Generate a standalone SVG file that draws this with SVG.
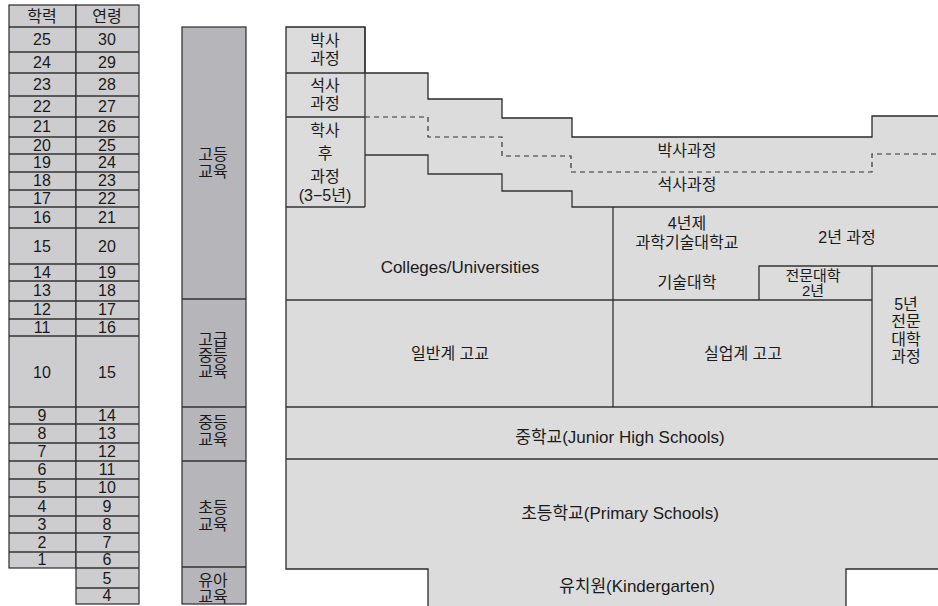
<svg xmlns="http://www.w3.org/2000/svg" width="938" height="606" viewBox="0 0 938 606">
<style>
text{font-family:"Liberation Sans","Noto Sans CJK KR",sans-serif;font-size:16px;fill:#1a1a1a;text-anchor:middle}
.num{font-size:16px}
.lat{font-size:17px}
.sm{font-size:15px}
.tbl{fill:#cdcdd0;stroke:#2a2a2a;stroke-width:1.2}
.bar{fill:#b6b6ba;stroke:#2a2a2a;stroke-width:1.2}
.main{fill:#dcdcdc;stroke:#2a2a2a;stroke-width:1.3}
.ln{fill:none;stroke:#333;stroke-width:1.3}
.dash{fill:none;stroke:#333;stroke-width:1.2;stroke-dasharray:5 4}
</style>
<rect width="938" height="606" fill="#fff"/>
<g id="age-table">
<rect class="tbl" x="9" y="5" width="67" height="563"/>
<rect class="tbl" x="76" y="5" width="63" height="599"/>
<path class="ln" d="M9 27H139M9 52H139M9 73H139M9 96H139M9 117H139M9 137H139M9 154H139M9 172H139M9 190H139M9 207H139M9 228H139M9 264H139M9 281H139M9 301H139M9 319H139M9 336H139M9 407H139M9 424H139M9 443H139M9 461H139M9 479H139M9 497H139M9 516H139M9 533H139M9 552H139M76 568H139M76 588H139"/>
<g class="num">
<text x="42" y="22">학력</text><text x="107" y="22">연령</text>
<text x="42" y="45">25</text><text x="107" y="45">30</text>
<text x="42" y="68">24</text><text x="107" y="68">29</text>
<text x="42" y="90">23</text><text x="107" y="90">28</text>
<text x="42" y="112">22</text><text x="107" y="112">27</text>
<text x="42" y="132">21</text><text x="107" y="132">26</text>
<text x="42" y="151">20</text><text x="107" y="151">25</text>
<text x="42" y="168">19</text><text x="107" y="168">24</text>
<text x="42" y="186">18</text><text x="107" y="186">23</text>
<text x="42" y="204">17</text><text x="107" y="204">22</text>
<text x="42" y="223">16</text><text x="107" y="223">21</text>
<text x="42" y="252">15</text><text x="107" y="252">20</text>
<text x="42" y="278">14</text><text x="107" y="278">19</text>
<text x="42" y="296">13</text><text x="107" y="296">18</text>
<text x="42" y="315">12</text><text x="107" y="315">17</text>
<text x="42" y="333">11</text><text x="107" y="333">16</text>
<text x="42" y="378">10</text><text x="107" y="378">15</text>
<text x="42" y="421">9</text><text x="107" y="421">14</text>
<text x="42" y="439">8</text><text x="107" y="439">13</text>
<text x="42" y="457">7</text><text x="107" y="457">12</text>
<text x="42" y="475">6</text><text x="107" y="475">11</text>
<text x="42" y="493">5</text><text x="107" y="493">10</text>
<text x="42" y="512">4</text><text x="107" y="512">9</text>
<text x="42" y="530">3</text><text x="107" y="530">8</text>
<text x="42" y="548">2</text><text x="107" y="548">7</text>
<text x="42" y="565">1</text><text x="107" y="565">6</text>
<text x="107" y="584">5</text>
<text x="107" y="601">4</text>
</g>
</g>
<g id="level-bar">
<rect class="bar" x="182" y="27" width="64" height="577"/>
<path class="ln" d="M182 299H246M182 407H246M182 461H246M182 567H246"/>
<text x="213" y="160">고등</text><text x="213" y="177">교육</text>
<text x="213" y="345">고급</text><text x="213" y="361">중등</text><text x="213" y="377">교육</text>
<text x="213" y="428">중등</text><text x="213" y="445">교육</text>
<text x="213" y="513">초등</text><text x="213" y="530">교육</text>
<text x="213" y="586">유아</text><text x="213" y="602">교육</text>
</g>
<g id="main-area">
<path class="main" d="M286 27H365V73H428V99H502V118H572V137H872V116H942V569H846V610H428V569H286Z"/>
</g>
<g id="connectors">
<path class="ln" d="M286 73H365M286 117H365M286 207H365M365 27V207"/>
<path class="dash" d="M365 117H428V137H502V156H571V172H872V154H940"/>
<path class="ln" d="M365 155H428V174H502V191H572V207H940"/>
<path class="ln" d="M613 207V407M286 300H872M759 300V266H940M872 266V407M286 407H940M286 459H940"/>
</g>
<g id="phd-box"><text x="325" y="46">박사</text><text x="325" y="64">과정</text></g>
<g id="ms-box"><text x="325" y="91">석사</text><text x="325" y="109">과정</text></g>
<g id="post-box"><text x="325" y="136">학사</text><text x="325" y="159">후</text><text x="325" y="182">과정</text><text x="325" y="201">(3−5년)</text></g>
<g id="phd"><text x="687" y="156">박사과정</text></g>
<g id="ms"><text x="687" y="190">석사과정</text></g>
<g id="univ"><text class="lat" x="460" y="273">Colleges/Universities</text></g>
<g id="tech-univ"><text x="687" y="229">4년제</text><text x="687" y="248">과학기술대학교</text></g>
<g id="two-year"><text x="847" y="243">2년 과정</text></g>
<g id="tech-college"><text x="687" y="288">기술대학</text></g>
<g id="jr-college"><text class="sm" x="813" y="281">전문대학</text><text class="sm" x="813" y="296">2년</text></g>
<g id="five-year"><text x="906" y="310">5년</text><text x="906" y="327">전문</text><text x="906" y="345">대학</text><text x="906" y="362">과정</text></g>
<g id="general-hs"><text x="450" y="359">일반계 고교</text></g>
<g id="voc-hs"><text x="743" y="359">실업계 고고</text></g>
<g id="middle"><text class="lat" x="620" y="443">중학교(Junior High Schools)</text></g>
<g id="primary"><text class="lat" x="620" y="519">초등학교(Primary Schools)</text></g>
<g id="kinder"><text class="lat" x="637" y="592">유치원(Kindergarten)</text></g>
</svg>
